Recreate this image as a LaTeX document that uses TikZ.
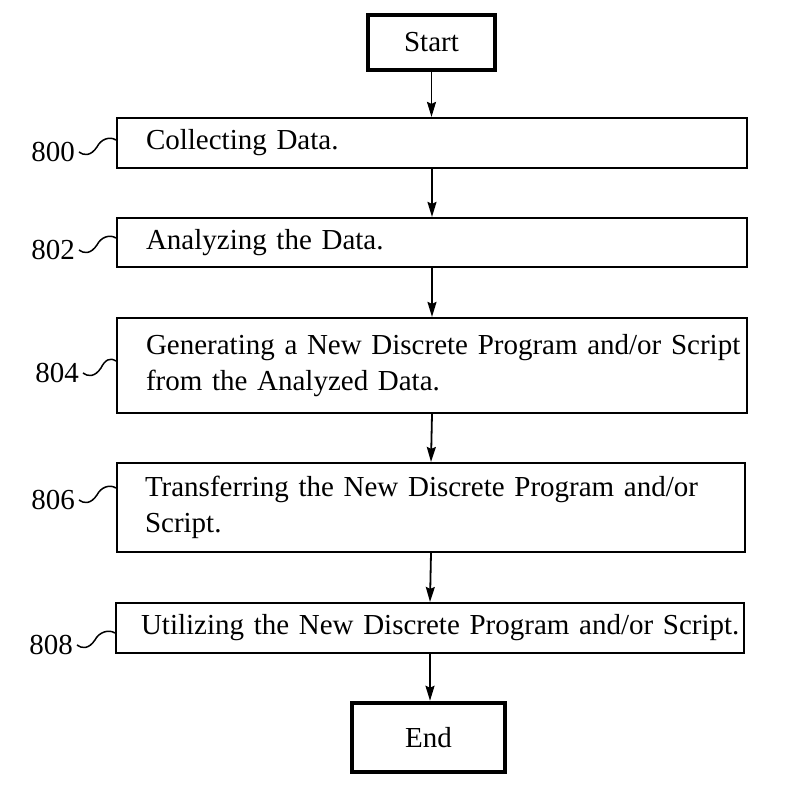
\documentclass[tikz,border=0pt]{standalone}
\usepackage{fontspec}
\setmainfont{Liberation Serif}
\usetikzlibrary{arrows.meta,calc}
\begin{document}
\begin{tikzpicture}[x=1pt,y=-1pt,
  txt/.style={font=\fontsize{29}{36}\selectfont},
  stepbox/.style={draw, line width=2.2pt, align=left, inner xsep=29pt, inner ysep=0pt,
    text width=572pt, txt},
  termbox/.style={draw, line width=4.5pt, inner sep=0pt, txt},
  arr/.style={line width=1.8pt, -{Stealth[length=15pt,width=9pt,inset=2pt]}},
  squig/.style={line width=1.5pt},
  lbl/.style={txt, inner sep=0pt}]
\useasboundingbox (0,0) rectangle (801,787);

\node[termbox, minimum width=127pt, minimum height=55pt] (start) at (431.5,42.5) {Start};
\node[stepbox, minimum height=50pt] (b800) at (432,143) {\mbox{Collecting Data.}};
\node[stepbox, minimum height=49pt] (b802) at (432,242.5) {\mbox{Analyzing the Data.}};
\node[stepbox, minimum height=95pt] (b804) at (432,365.5) {\mbox{Generating a New Discrete Program and/or Script}\\\mbox{from the Analyzed Data.}};
\node[stepbox, minimum height=89pt, inner xsep=28pt, text width=572pt] (b806) at (431,507.5) {\mbox{Transferring the New Discrete Program and/or}\\\mbox{Script.}};
\node[stepbox, minimum height=50pt, inner xsep=25pt, text width=578pt] (b808) at (430,628) {\mbox{Utilizing the New Discrete Program and/or Script.}};
\node[termbox, minimum width=153pt, minimum height=69pt] (end) at (428.5,737.5) {End};

\node[lbl] (l800) at (53,152) {800};
\node[lbl] (l802) at (53,250) {802};
\node[lbl] (l804) at (57,373) {804};
\node[lbl] (l806) at (53,500) {806};
\node[lbl] (l808) at (51,645) {808};

\foreach \n in {800,802,804,806,808}{
  \coordinate (s\n) at ($(l\n.east)+(4,0)$);
  \draw[squig] (s\n) .. controls ($(s\n)+(5,4)$) and ($(s\n)+(12,4)$) .. ($(s\n)+(18,-5)$)
    .. controls ($(s\n)+(22,-13)$) and ($(b\n.west |- s\n)+(-6,-16)$) .. ($(b\n.west |- s\n)+(0,-12)$);
}

\draw[arr] (start.south) -- (start.south |- b800.north);
\draw[arr] (b800.south) -- (b802.north);
\draw[arr] (b802.south) -- (b804.north);
\draw[arr] (b804.south) -- (b806.north);
\draw[arr] (b806.south) -- (b808.north);
\draw[arr] (b808.south) -- (b808.south |- end.north);
\end{tikzpicture}
\end{document}
